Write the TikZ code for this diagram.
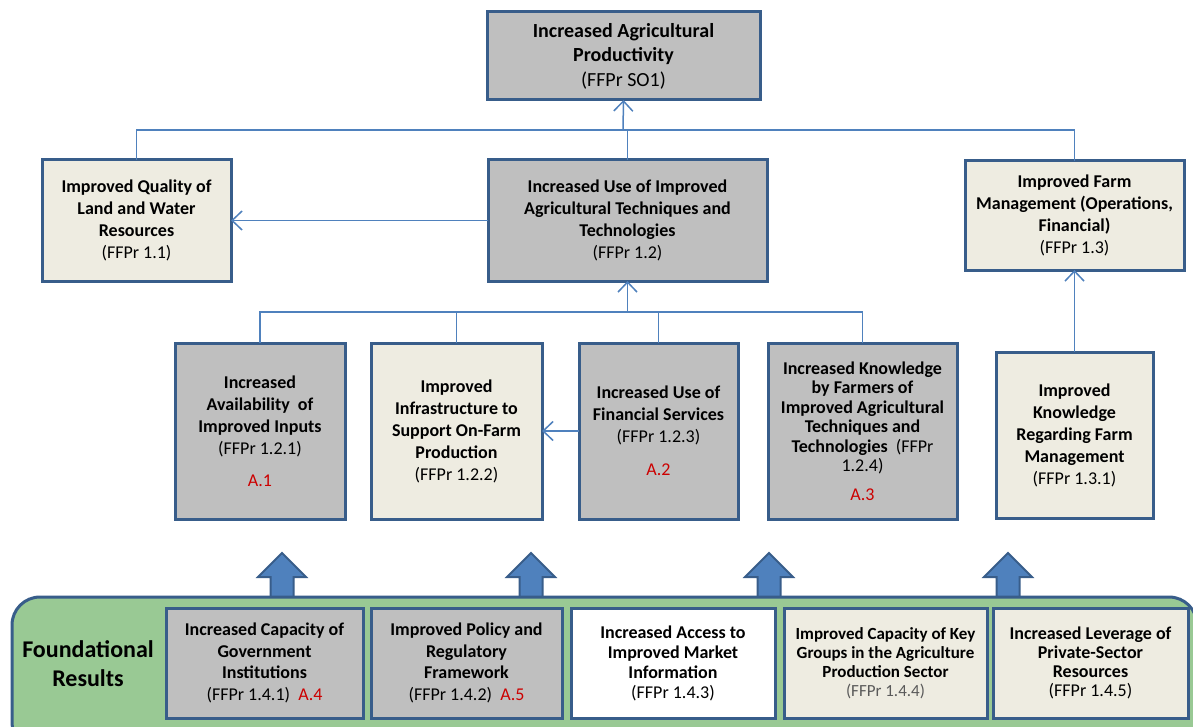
\documentclass[tikz,border=0pt]{standalone}
\usepackage{fontspec}
\setmainfont{Carlito}
\usetikzlibrary{arrows.meta}
\definecolor{bordc}{RGB}{56,93,138}
\definecolor{linec}{RGB}{79,129,189}
\definecolor{grayf}{RGB}{191,191,191}
\definecolor{beige}{RGB}{238,236,225}
\definecolor{greenf}{RGB}{153,201,148}
\definecolor{redt}{RGB}{204,0,0}
\definecolor{arrf}{RGB}{79,129,189}
\definecolor{grayt}{RGB}{90,90,90}
\newcommand{\reg}[1]{{\mdseries #1}}
\newcommand{\redreg}[1]{{\mdseries\color{redt}#1}}
\begin{document}
\begin{tikzpicture}[x=1pt,y=-1pt,
  box/.style={draw=bordc,line width=3pt,rectangle,inner sep=0pt,outer sep=0pt,align=center,
    font=\bfseries\fontsize{18}{22}\selectfont},
  graybox/.style={box,fill=grayf},
  beigebox/.style={box,fill=beige},
  whitebox/.style={box,fill=white},
  conn/.style={draw=linec,line width=1.5pt},
  arr/.style={conn,-{Straight Barb[length=10pt,width=19pt,line width=1.5pt]}},
  blockarr/.style={fill=arrf,draw=bordc,line width=2pt,line join=miter},
  greenbar/.style={fill=greenf,draw=bordc,line width=3pt,rounded corners=28pt},
]
\clip (0,0) rectangle (1193,727);
\fill[white] (0,0) rectangle (1193,727);

% top level
\node[graybox,minimum width=273pt,minimum height=88pt,font=\bfseries\fontsize{20}{24.5}\selectfont] (top) at (623.5,56)
  {Increased Agricultural\\Productivity\\\reg{(FFPr SO1)}};

% second level
\node[beigebox,minimum width=189pt,minimum height=121pt] (q11) at (136.5,220.5)
  {Improved Quality of\\Land and Water\\Resources\\\reg{(FFPr 1.1)}};
\node[graybox,minimum width=279pt,minimum height=121pt] (b12) at (627.5,220.5)
  {Increased Use of Improved\\Agricultural Techniques and\\Technologies\\\reg{(FFPr 1.2)}};
\node[beigebox,minimum width=219pt,minimum height=109pt] (f13) at (1074.5,215.5)
  {Improved Farm\\Management (Operations,\\Financial)\\\reg{(FFPr 1.3)}};

% third level
\node[graybox,minimum width=170pt,minimum height=176pt] (m1) at (260,431)
  {Increased\\Availability~ of\\Improved Inputs\\\reg{(FFPr 1.2.1)}\\[10pt]\redreg{A.1}};
\node[beigebox,minimum width=171pt,minimum height=176pt] (m2) at (456.5,431)
  {Improved\\Infrastructure to\\Support On-Farm\\Production\\\reg{(FFPr 1.2.2)}};
\node[graybox,minimum width=159pt,minimum height=176pt] (m3) at (658.5,431)
  {Increased Use of\\Financial Services\\\reg{(FFPr 1.2.3)}\\[11pt]\redreg{A.2}};
\node[graybox,minimum width=189pt,minimum height=176pt,font=\bfseries\fontsize{18}{19.5}\selectfont] (m4) at (862.5,431)
  {Increased Knowledge\\by Farmers of\\Improved Agricultural\\Techniques and\\Technologies~ \reg{(FFPr}\\\reg{1.2.4)}\\[9pt]\redreg{A.3}};
\node[beigebox,minimum width=157pt,minimum height=166pt] (m5) at (1074.5,435)
  {Improved\\Knowledge\\Regarding Farm\\Management\\\reg{(FFPr 1.3.1)}};

% connectors
\coordinate (bus1) at (623,130);
\draw[conn] (q11.north) |- (bus1) -| (f13.north);
\draw[conn] (b12.north) -- (b12.north |- bus1);
\draw[arr] (bus1) -- (top.south);
\draw[arr] (b12.west) -- (q11.east);

\coordinate (bus2) at (627.5,312);
\draw[conn] (m1.north) |- (bus2) -| (m4.north);
\draw[conn] (m2.north) -- (m2.north |- bus2);
\draw[conn] (m3.north) -- (m3.north |- bus2);
\draw[arr] (bus2) -- (b12.south);
\draw[arr] (m3.west) -- (m2.east);
\draw[arr] (m5.north) -- (f13.south);

% block arrows
\foreach \cx in {282,531,769,1008}{
  \draw[blockarr] (\cx-11.5,600) -- (\cx-11.5,577) -- (\cx-24,577) -- (\cx,553)
    -- (\cx+24,577) -- (\cx+11.5,577) -- (\cx+11.5,600) -- cycle;
}

% foundational results
\draw[greenbar] (12,597) rectangle (1197,750);
\node[font=\bfseries\fontsize{24}{29}\selectfont,align=center,inner sep=0pt] (found) at (88,664)
  {Foundational\\Results};

\node[graybox,minimum width=197pt,minimum height=110pt,font=\bfseries\fontsize{18}{21.5}\selectfont] (f1) at (264.5,663)
  {Increased Capacity of\\Government\\Institutions\\\reg{(FFPr 1.4.1)~~\color{redt}A.4}};
\node[graybox,minimum width=191pt,minimum height=110pt,font=\bfseries\fontsize{18}{21.5}\selectfont] (f2) at (466.5,663)
  {Improved Policy and\\Regulatory\\Framework\\\reg{(FFPr 1.4.2)~~\color{redt}A.5}};
\node[whitebox,minimum width=204pt,minimum height=110pt,font=\bfseries\fontsize{18}{20}\selectfont] (f3) at (673,663)
  {Increased Access to\\Improved Market\\Information\\\reg{(FFPr 1.4.3)}};
\node[beigebox,minimum width=203pt,minimum height=110pt,font=\bfseries\fontsize{17}{19}\selectfont] (f4) at (885.5,663)
  {Improved Capacity of Key\\Groups in the Agriculture\\Production Sector\\\reg{\color{grayt}(FFPr 1.4.4)}};
\node[beigebox,minimum width=195pt,minimum height=110pt,font=\bfseries\fontsize{18}{19}\selectfont] (f5) at (1090.5,663)
  {Increased Leverage of\\Private-Sector\\Resources\\\reg{(FFPr 1.4.5)}};
\end{tikzpicture}
\end{document}
